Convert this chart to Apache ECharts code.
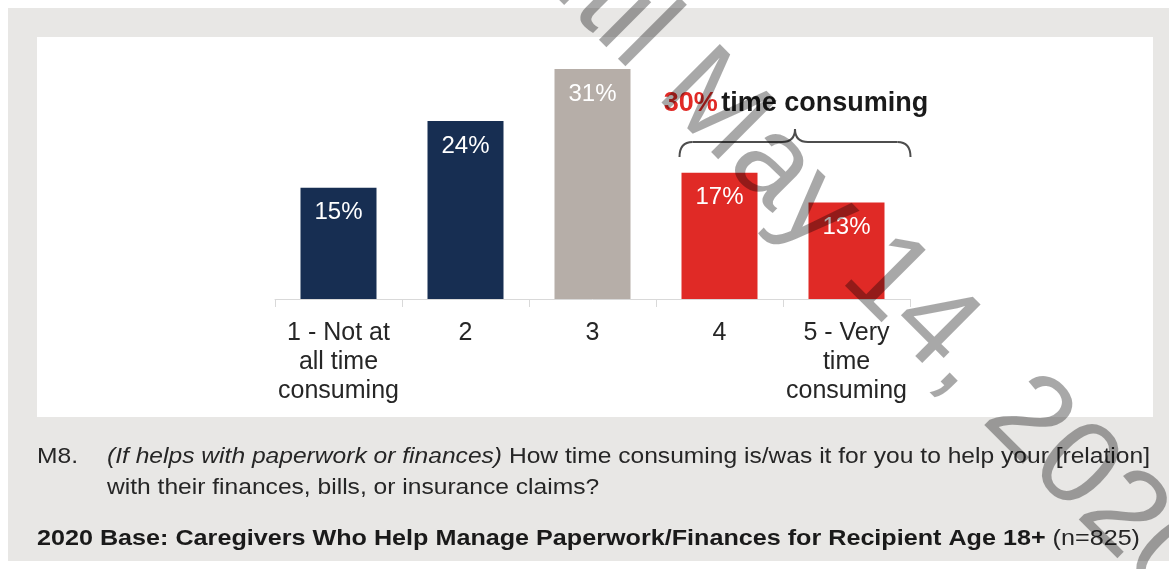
<!DOCTYPE html>
<html><head><meta charset="utf-8">
<script src="https://cdn.jsdelivr.net/npm/echarts@6/dist/echarts.min.js"></script>
<style>html,body{margin:0;padding:0;background:#fff}#c{width:1169px;height:569px}</style>
</head><body><div id="c"></div>
<script>
const categories = ['1 - Not at\nall time\nconsuming', '2', '3', '4', '5 - Very\ntime\nconsuming'];
const values = [15, 24, 31, 17, 13];
const barColors = ['#172e52', '#172e52', '#b6aea8', '#e02a26', '#e02a26'];
const summaryPct = '30%';
const summaryText = 'time consuming';
const questionId = 'M8.';
const questionItalic = '(If helps with paperwork or finances)';
const questionRest = ' How time consuming is/was it for you to help your [relation]';
const questionLine2 = 'with their finances, bills, or insurance claims?';
const baseBold = '2020 Base: Caregivers Who Help Manage Paperwork/Finances for Recipient Age 18+';
const baseN = ' (n=825)';
const watermarkPre = 'Embargoed until ';
const watermarkPost = 'May 14, 2020';

const FONT = '"Liberation Sans", Arial, sans-serif';
const chart = echarts.init(document.getElementById('c'), null, {renderer: 'canvas'});

const mctx = document.createElement('canvas').getContext('2d');
function tw(txt, style, weight, size) {
  mctx.font = (style || 'normal') + ' ' + (weight || 'normal') + ' ' + size + 'px ' + FONT;
  return mctx.measureText(txt).width;
}
const FS = 22;
const qW = tw(questionItalic, 'italic', 'normal', FS) + tw(questionRest, 'normal', 'normal', FS);
const sx = (1150 - 107) / qW;
const bW = tw(baseBold, 'normal', 'bold', FS) + tw(baseN, 'normal', 'normal', FS);
const sx3 = (1140 - 37) / bW;

chart.setOption({
  backgroundColor: '#ffffff',
  animation: false,
  grid: {left: 275, top: 69, width: 635, height: 230},
  xAxis: {
    type: 'category',
    data: categories,
    axisLine: {lineStyle: {color: '#d9d9d9', width: 1}},
    axisTick: {show: true, length: 8, interval: 0, lineStyle: {color: '#d9d9d9'}},
    axisLabel: {interval: 0, color: '#262626', fontFamily: FONT, fontSize: 25, lineHeight: 29, margin: 20}
  },
  yAxis: {type: 'value', min: 0, max: 31, show: false, splitLine: {show: false}},
  series: [{
    type: 'bar',
    barWidth: 76,
    data: values.map((v, i) => ({value: v, itemStyle: {color: barColors[i]}})),
    label: {
      show: true, position: 'insideTop', distance: 13,
      formatter: p => p.value + '%',
      color: '#ffffff', fontFamily: FONT, fontSize: 24
    },
    z: 3
  }]
});

const c4 = chart.convertToPixel({xAxisIndex: 0}, categories[3]);
const c5 = chart.convertToPixel({xAxisIndex: 0}, categories[4]);
const L = c4 - 40, R = c5 + 64, M = (L + R) / 2;
const yTop = 129, yMid = 142, yEnd = 157, r = 13;
const braceStyle = {fill: null, stroke: '#4d4d4d', lineWidth: 2};
function bz(x1, y1, cx, cy, x2, y2) {
  return {type: 'bezierCurve', z: 5, silent: true, shape: {x1, y1, cpx1: cx, cpy1: cy, x2, y2}, style: braceStyle};
}
function ln(x1, y1, x2, y2) {
  return {type: 'line', z: 5, silent: true, shape: {x1, y1, x2, y2}, style: braceStyle};
}
const braceParts = [
  bz(L, yEnd, L, yMid, L + r, yMid),
  ln(L + r, yMid, M - r, yMid),
  bz(M - r, yMid, M, yMid, M, yTop),
  bz(M, yTop, M, yMid, M + r, yMid),
  ln(M + r, yMid, R - r, yMid),
  bz(R - r, yMid, R, yMid, R, yEnd)
];

const ang = -Math.PI / 4;
const wmX = 678, wmY = 72;
const wmFill = 'rgba(0,0,0,0.34)';

chart.setOption({
  graphic: [
    {type: 'rect', z: -20, silent: true, shape: {x: 8, y: 8, width: 1161, height: 553}, style: {fill: '#e8e7e5'}},
    {type: 'rect', z: -19, silent: true, shape: {x: 37, y: 37, width: 1116, height: 380}, style: {fill: '#ffffff'}},
    ...braceParts,
    {type: 'text', z: 5, x: M + 1, y: 104, style: {
      text: '{r|' + summaryPct + '} {b|' + summaryText + '}',
      align: 'center', verticalAlign: 'middle',
      rich: {
        r: {fill: '#e02a26', fontFamily: FONT, fontWeight: 'bold', fontSize: 27},
        b: {fill: '#1a1a1a', fontFamily: FONT, fontWeight: 'bold', fontSize: 27}
      }
    }},
    {type: 'text', z: 5, x: 37, y: 457, scaleX: sx, style: {text: questionId, fill: '#262626', fontFamily: FONT, fontSize: FS, verticalAlign: 'middle'}},
    {type: 'text', z: 5, x: 107, y: 457, scaleX: sx, style: {
      text: '{i|' + questionItalic + '}{n|' + questionRest + '}', verticalAlign: 'middle',
      rich: {
        i: {fill: '#262626', fontFamily: FONT, fontSize: FS, fontStyle: 'italic'},
        n: {fill: '#262626', fontFamily: FONT, fontSize: FS}
      }
    }},
    {type: 'text', z: 5, x: 107, y: 488, scaleX: sx, style: {text: questionLine2, fill: '#262626', fontFamily: FONT, fontSize: FS, verticalAlign: 'middle'}},
    {type: 'text', z: 5, x: 37, y: 539, scaleX: sx3, style: {
      text: '{b|' + baseBold + '}{n|' + baseN + '}', verticalAlign: 'middle',
      rich: {
        b: {fill: '#1a1a1a', fontFamily: FONT, fontSize: FS, fontWeight: 'bold'},
        n: {fill: '#262626', fontFamily: FONT, fontSize: FS}
      }
    }},
    {type: 'text', z: 50, silent: true, x: wmX, y: wmY, rotation: ang, style: {
      text: watermarkPost, fill: wmFill, fontFamily: FONT, fontSize: 120,
      align: 'left', verticalAlign: 'middle'
    }},
    {type: 'text', z: 50, silent: true, x: wmX, y: wmY, rotation: ang, style: {
      text: watermarkPre, fill: wmFill, fontFamily: FONT, fontSize: 120,
      align: 'right', verticalAlign: 'middle'
    }}
  ]
});
</script></body></html>
